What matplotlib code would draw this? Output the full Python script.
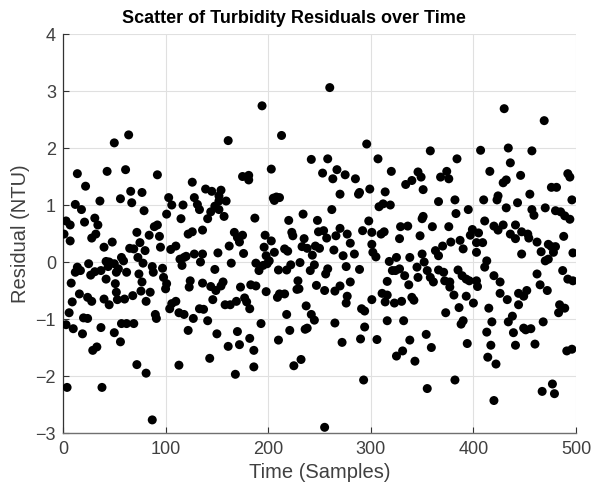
import matplotlib
matplotlib.use("Agg")
import matplotlib.pyplot as plt

plt.rcParams['font.family'] = ['Liberation Sans', 'DejaVu Sans']

# Time (samples) and residual (NTU) values
samples = [
    1, 3, 7, 7, 14, 22, 12, 18, 21, 36, 43, 50, 64, 61, 56, 66, 67, 77, 79, 92,
    31, 34, 32, 28, 48, 40, 72, 75, 65, 69, 73, 80, 78, 84, 89, 92, 94, 95, 57, 59,
    42, 45, 50, 25, 14, 17, 27, 31, 37, 44, 54, 52, 62, 12, 42, 51, 74, 77, 87, 88,
    97, 98, 8, 16, 9, 24, 28, 40, 45, 52, 53, 60, 68, 76, 81, 85, 6, 3, 10, 20,
    24, 19, 37, 50, 56, 57, 62, 69, 90, 91, 29, 33, 72, 81, 4, 38, 87,
    194, 161, 175, 181, 181, 126, 139, 145, 154, 103, 128, 106, 117, 131, 133, 152, 152, 159, 148, 144,
    141, 101, 115, 152, 157, 187, 136, 122, 126, 167, 170, 175, 172, 197, 196, 110, 105, 118, 120, 114,
    116, 128, 136, 134, 151, 162, 176, 164, 148, 188, 191, 195, 199, 101, 100, 124, 123, 136, 144, 149,
    156, 154, 173, 183, 188, 198, 146, 158, 163, 169, 177, 179, 182, 106, 104, 110, 113, 118, 127, 133,
    137, 141, 193, 122, 150, 170, 182, 161, 172, 186, 143, 113, 186, 168,
    260, 213, 296, 203, 242, 258, 253, 263, 267, 275, 285, 288, 289, 299, 270, 205, 208, 211, 206, 262,
    234, 220, 248, 298, 223, 224, 249, 254, 235, 257, 266, 270, 277, 292, 301, 203, 206, 216, 219, 233,
    238, 246, 243, 250, 264, 273, 280, 284, 301, 302, 198, 201, 210, 218, 222, 231, 245, 241, 258, 256,
    276, 289, 229, 228, 230, 247, 255, 265, 270, 280, 277, 276, 209, 211, 216, 237, 291, 294, 301, 218,
    242, 245, 265, 294, 221, 236, 238, 210, 272, 290, 225, 232, 293, 255,
    307, 358, 384, 320, 346, 349, 334, 340, 351, 368, 374, 376, 314, 366, 382, 308, 312, 319, 383, 395,
    351, 350, 310, 313, 329, 336, 328, 348, 360, 376, 305, 325, 318, 338, 350, 352, 363, 370, 366, 378,
    387, 390, 397, 399, 403, 321, 328, 324, 333, 345, 346, 355, 358, 361, 366, 371, 372, 377, 377, 385,
    389, 393, 396, 403, 404, 316, 337, 311, 316, 314, 323, 330, 340, 342, 381, 393, 400, 386, 373, 316,
    332, 390, 388, 306, 338, 354, 359, 394, 325, 331, 343, 355, 382,
    430, 469, 407, 434, 457, 436, 416, 446, 432, 429, 492, 494, 476, 481, 410, 424, 423, 455, 443, 432,
    496, 470, 457, 459, 480, 485, 489, 494, 411, 429, 441, 405, 409, 420, 424, 436, 441, 447, 453, 454,
    462, 488, 473, 476, 480, 478, 466, 447, 497, 403, 413, 411, 473, 470, 487, 492, 497, 462, 420, 426,
    465, 472, 452, 444, 449, 426, 433, 444, 415, 484, 489, 483, 418, 413, 438, 434, 449, 451, 456, 468,
    439, 417, 441, 460, 414, 422, 491, 496, 477, 467, 479, 420,
]

residuals = [
    0.49, 0.72, 0.65, 0.37, 1.55, 1.33, 1.01, 0.92, 0.70, 1.07, 1.59, 2.09, 2.23, 1.62, 1.11, 1.24, 1.04, 1.22, 0.90, 1.53,
    0.77, 0.65, 0.49, 0.42, 0.35, 0.26, 0.52, 0.34, 0.24, 0.23, 0.08, 0.20, -0.02, 0.47, 0.62, 0.65, 0.45, 0.26, 0.08, 0.02,
    0.01, 0.00, -0.03, -0.03, -0.09, -0.15, -0.23, -0.17, -0.15, -0.08, -0.12, -0.18, -0.18, -0.18, -0.30, -0.38, -0.21, -0.35, -0.08, -0.18,
    -0.11, -0.27, -0.37, -0.56, -0.70, -0.62, -0.69, -0.65, -0.75, -0.53, -0.66, -0.65, -0.59, -0.51, -0.69, -0.53, -0.89, -1.10, -1.17, -0.98,
    -0.99, -1.26, -1.15, -1.24, -1.40, -1.08, -1.08, -1.08, -0.92, -0.99, -1.55, -1.49, -1.80, -1.95, -2.20, -2.20, -2.77,
    2.74, 2.13, 1.50, 1.52, 1.44, 1.40, 1.28, 1.24, 1.26, 1.13, 1.13, 1.00, 1.00, 1.01, 0.92, 1.16, 1.07, 1.07, 0.98, 0.88,
    0.76, 0.84, 0.76, 0.92, 0.80, 0.77, 0.56, 0.49, 0.53, 0.52, 0.43, 0.47, 0.35, 0.47, 0.26, 0.28, 0.22, 0.08, 0.10, 0.05,
    -0.06, 0.14, 0.14, 0.00, 0.16, 0.28, 0.15, -0.02, -0.13, -0.02, -0.15, -0.06, -0.03, -0.38, -0.47, -0.33, -0.44, -0.37, -0.43, -0.50,
    -0.35, -0.42, -0.44, -0.40, -0.42, -0.52, -0.66, -0.75, -0.75, -0.69, -0.63, -0.70, -0.82, -0.73, -0.82, -0.69, -0.89, -0.92, -0.99, -0.82,
    -0.83, -1.03, -1.08, -1.20, -1.26, -1.22, -1.34, -1.48, -1.45, -1.55, -1.69, -1.81, -1.84, -1.97,
    3.06, 2.22, 2.07, 1.63, 1.80, 1.81, 1.56, 1.46, 1.62, 1.53, 1.46, 1.19, 1.22, 1.28, 1.19, 1.12, 1.14, 1.13, 1.08, 0.92,
    0.84, 0.73, 0.73, 0.72, 0.52, 0.46, 0.53, 0.55, 0.41, 0.42, 0.46, 0.59, 0.49, 0.55, 0.52, 0.37, 0.17, 0.23, 0.19, 0.27,
    0.24, 0.28, 0.12, 0.24, 0.21, 0.11, 0.33, 0.14, 0.31, 0.17, 0.11, 0.02, -0.14, -0.14, -0.05, -0.01, -0.05, -0.15, -0.12, -0.21,
    -0.08, -0.13, -0.33, -0.48, -0.47, -0.41, -0.50, -0.51, -0.42, -0.35, -0.60, -0.72, -0.62, -0.56, -0.56, -0.77, -0.82, -0.86, -0.66, -0.92,
    -0.92, -1.02, -1.07, -1.14, -1.20, -1.18, -1.16, -1.37, -1.41, -1.35, -1.82, -1.71, -2.07, -2.90,
    1.81, 1.95, 1.81, 1.59, 1.58, 1.49, 1.36, 1.43, 1.27, 1.49, 1.59, 1.46, 1.23, 1.06, 1.09, 0.97, 1.02, 1.00, 0.85, 0.92,
    0.80, 0.76, 0.49, 0.53, 0.62, 0.63, 0.41, 0.46, 0.62, 0.62, 0.09, 0.08, 0.01, 0.08, 0.14, 0.00, 0.20, 0.28, 0.11, 0.35,
    0.38, 0.23, 0.47, 0.57, 0.34, -0.15, -0.12, -0.15, -0.24, -0.09, -0.27, -0.15, -0.27, -0.35, -0.14, -0.18, -0.33, -0.35, -0.44, -0.14,
    -0.24, -0.30, -0.33, -0.33, -0.43, -0.34, -0.40, -0.55, -0.58, -0.70, -0.72, -0.69, -0.62, -0.67, -0.58, -0.60, -0.72, -0.80, -0.89, -1.03,
    -1.03, -1.03, -1.09, -1.36, -1.37, -1.27, -1.50, -1.43, -1.65, -1.56, -1.74, -2.22, -2.07,
    2.69, 2.48, 1.96, 2.00, 1.95, 1.74, 1.59, 1.52, 1.44, 1.39, 1.55, 1.49, 1.31, 1.31, 1.09, 1.16, 1.09, 1.19, 1.04, 0.95,
    1.09, 0.95, 0.92, 0.82, 0.90, 0.88, 0.81, 0.75, 0.72, 0.65, 0.65, 0.51, 0.34, 0.63, 0.56, 0.49, 0.41, 0.53, 0.49, 0.42,
    0.35, 0.45, 0.31, 0.27, 0.27, 0.17, 0.18, 0.14, 0.16, 0.17, 0.02, -0.09, 0.05, 0.02, -0.15, -0.30, -0.33, -0.21, -0.24, -0.35,
    -0.40, -0.50, -0.50, -0.55, -0.60, -0.55, -0.66, -0.75, -0.81, -0.75, -0.81, -0.89, -1.05, -1.23, -0.95, -1.05, -1.16, -1.19, -1.17, -1.05,
    -1.24, -1.46, -1.46, -1.44, -1.67, -1.79, -1.56, -1.53, -2.14, -2.27, -2.31, -2.43,
]

x_ticks = [0, 100, 200, 300, 400, 500]
y_ticks = [-3, -2, -1, 0, 1, 2, 3, 4]

text_color = '#404040'

fig = plt.figure(figsize=(5.92, 4.90), dpi=100)
ax = fig.add_axes([0.1064, 0.1163, 0.8666, 0.8143])

ax.scatter(samples, residuals, s=42, color='black', edgecolors='none', zorder=3)

ax.set_xlim(0, 500)
ax.set_ylim(-3, 4)
ax.set_xticks(x_ticks)
ax.set_yticks(y_ticks)
ax.grid(True, color='#e0e0e0', linewidth=0.8)
ax.set_axisbelow(True)

ax.spines['top'].set_visible(False)
ax.spines['right'].set_visible(False)
ax.spines['left'].set_color('#333333')
ax.spines['bottom'].set_color('#707070')
ax.spines['left'].set_linewidth(0.9)
ax.spines['bottom'].set_linewidth(1.0)

ax.tick_params(direction='in', length=4, width=0.8, colors='#333333',
               labelcolor=text_color, labelsize=13)
ax.tick_params(axis='x', pad=6)
ax.tick_params(axis='y', pad=5)

ax.set_xlabel('Time (Samples)', fontsize=14.5, color=text_color, labelpad=3)
ax.set_ylabel('Residual (NTU)', fontsize=14.5, color=text_color, labelpad=4)
fig.text(0.497, 0.962, 'Scatter of Turbidity Residuals over Time', fontsize=13,
         fontweight='bold', color='black', ha='center', va='center')

fig.savefig('out.png', dpi=100)
